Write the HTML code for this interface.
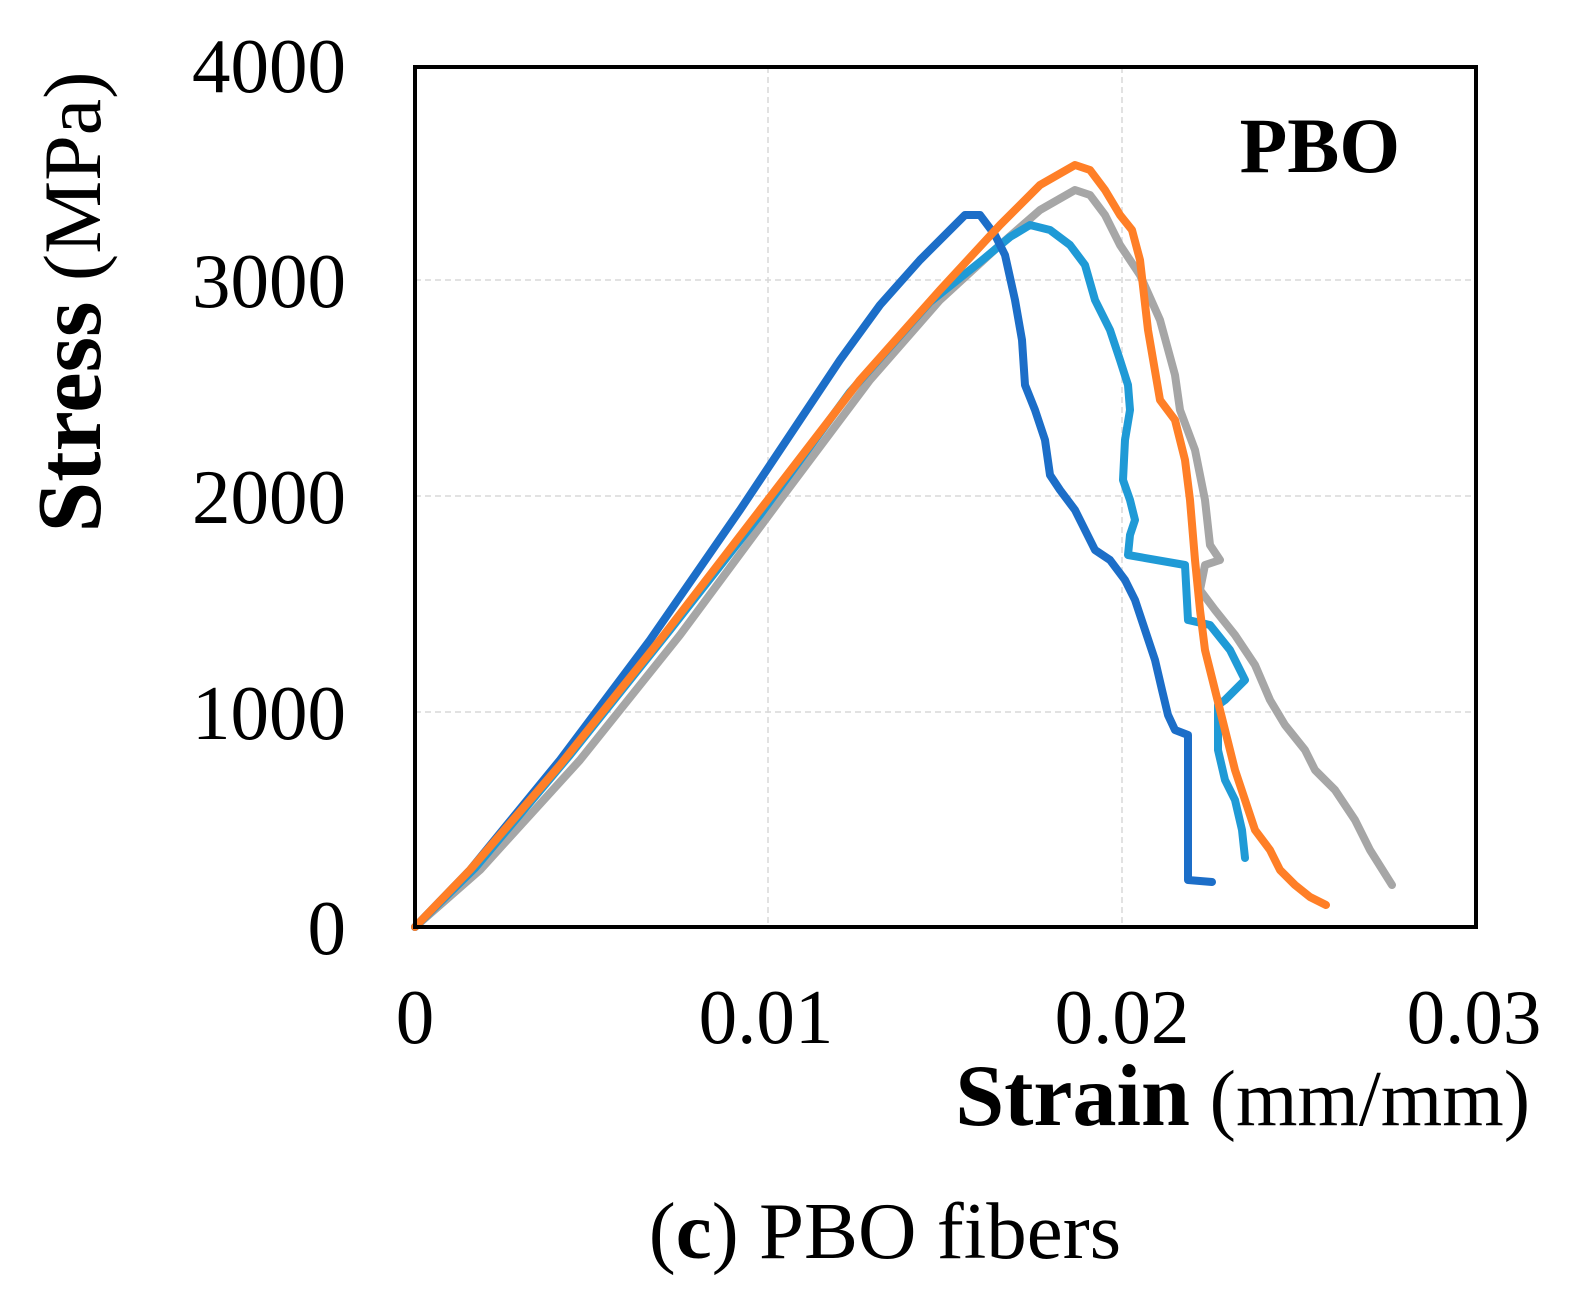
<!DOCTYPE html>
<html><head><style>
html,body{margin:0;padding:0;background:#fff;}
svg{display:block;font-family:"Liberation Serif",serif;}
</style></head><body>
<svg width="1569" height="1311" viewBox="0 0 1569 1311">
<rect width="1569" height="1311" fill="#fff"/>
<g stroke="#d9d9d9" stroke-width="1.5" stroke-dasharray="6,4" fill="none">
<line x1="415" y1="280" x2="1476" y2="280"/>
<line x1="415" y1="496" x2="1476" y2="496"/>
<line x1="415" y1="712" x2="1476" y2="712"/>
<line x1="768" y1="67" x2="768" y2="927"/>
<line x1="1122" y1="67" x2="1122" y2="927"/>
</g>
<g fill="none" stroke-width="8" stroke-linejoin="round" stroke-linecap="round">
<polyline stroke="#a6a6a6" points="415,927 480,870 580,760 680,635 780,500 870,380 940,300 1000,245 1040,210 1075,190 1090,195 1105,215 1120,245 1140,275 1160,320 1175,375 1180,410 1195,450 1205,500 1210,545 1220,560 1205,565 1200,590 1215,610 1235,635 1255,665 1270,700 1285,725 1305,750 1315,770 1335,790 1355,820 1370,850 1392,885"/>
<polyline stroke="#1f9ad6" points="415,927 475,868 570,755 670,630 760,515 850,392 930,302 980,262 1010,237 1030,225 1050,230 1070,245 1085,265 1095,300 1110,330 1120,360 1128,385 1130,410 1125,440 1123,480 1130,500 1135,520 1130,535 1128,555 1185,565 1188,620 1210,625 1230,650 1245,680 1235,690 1225,700 1218,705 1218,750 1225,780 1235,800 1242,830 1245,858"/>
<polyline stroke="#1c6ec8" points="415,927 470,870 560,760 650,640 740,510 800,420 840,360 880,305 920,260 950,230 965,215 980,215 995,235 1005,255 1015,300 1022,340 1025,385 1035,410 1045,440 1050,475 1060,490 1075,510 1085,530 1095,550 1110,560 1125,580 1135,600 1145,630 1155,660 1162,690 1168,715 1175,730 1188,735 1188,880 1212,882"/>
<polyline stroke="#ff7f27" points="415,927 470,870 560,765 660,640 760,510 860,380 940,290 1000,225 1040,185 1075,165 1090,170 1105,190 1120,215 1132,230 1140,260 1148,330 1160,400 1175,420 1185,460 1190,500 1195,560 1200,610 1205,650 1215,690 1225,730 1235,770 1245,800 1255,830 1270,850 1280,870 1295,885 1310,897 1326,905"/>
</g>
<rect x="415" y="67" width="1061" height="860" fill="none" stroke="#000" stroke-width="4"/>
<g font-size="77" text-anchor="end" fill="#000">
<text x="346" y="92">4000</text>
<text x="346" y="307">3000</text>
<text x="346" y="523">2000</text>
<text x="346" y="739">1000</text>
<text x="346" y="954">0</text>
</g>
<g font-size="77" text-anchor="middle" fill="#000">
<text x="415" y="1043">0</text>
<text x="766" y="1043">0.01</text>
<text x="1122" y="1043">0.02</text>
<text x="1474" y="1043">0.03</text>
</g>
<text x="1400" y="172" font-size="78" font-weight="bold" text-anchor="end">PBO</text>
<text x="1530" y="1125" font-size="79" text-anchor="end"><tspan font-weight="bold" font-size="88">Strain</tspan> (mm/mm)</text>
<text transform="translate(100,302) rotate(-90)" font-size="82" text-anchor="middle"><tspan font-weight="bold" font-size="91">Stress</tspan> (MPa)</text>
<text x="885" y="1258" font-size="81" text-anchor="middle">(<tspan font-weight="bold">c</tspan>) PBO fibers</text>
</svg>
</body></html>
